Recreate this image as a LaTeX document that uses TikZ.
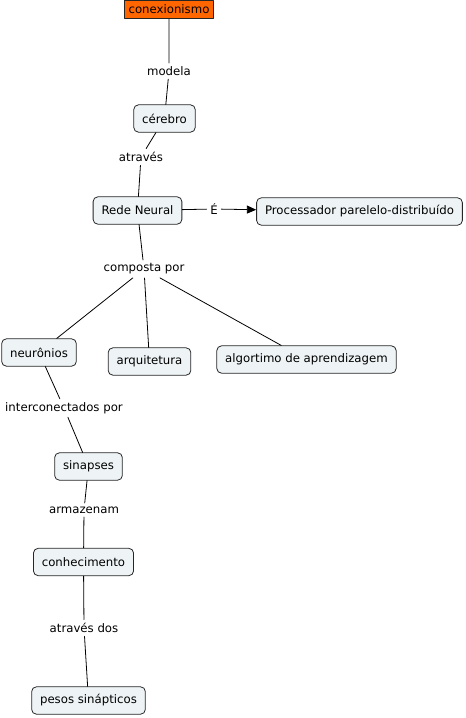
\documentclass[tikz,border=0pt]{standalone}
\usepackage{fontspec}
\setmainfont{DejaVu Sans}
\usetikzlibrary{arrows.meta}
\definecolor{conceptfill}{HTML}{EEF3F5}
\definecolor{rootfill}{HTML}{FF6600}
\begin{document}
\begin{tikzpicture}[
		x=0.75pt, y=-0.75pt, font=\fontsize{8.8}{10}\selectfont,
		line join=round, line cap=round, >={Triangle[length=7pt,width=6pt]},
		concept/.style={draw=black!85, fill=conceptfill, rounded corners=3.5pt,
			minimum height=20.5pt, inner xsep=6.3pt, line width=0.6pt},
		rootbox/.style={draw=black!85, fill=rootfill, minimum height=13.5pt, inner xsep=3pt, line width=0.6pt},
		linkword/.style={inner sep=2.5pt},
		link/.style={line width=0.6pt}
		]
		\useasboundingbox (0,0) rectangle (465,718);
		% conceitos
		\node[rootbox] (conex) at (169, 9.5) {conexionismo};
		\node[concept] (cerebro) at (164.5, 118.5) {cérebro};
		\node[concept] (rede) at (137.5, 210.5) {Rede Neural};
		\node[concept] (proc) at (359.5, 211.5) {Processador parelelo-distribuído};
		\node[concept] (neur) at (39, 352.5) {neurônios};
		\node[concept] (arq) at (149.5, 361.5) {arquitetura};
		\node[concept] (alg) at (306.5, 359.5) {algortimo de aprendizagem};
		\node[concept] (sinap) at (88.5, 466.5) {sinapses};
		\node[concept] (conhec) at (83.5, 562) {conhecimento};
		\node[concept] (pesos) at (88.5, 700.5) {pesos sinápticos};
		% palavras de ligação
		\node[linkword] (modela) at (169, 71) {modela};
		\node[linkword] (atraves) at (141, 157) {através};
		\node[linkword] (e) at (214, 209) {É};
		\node[linkword] (composta) at (144, 269) {composta por};
		\node[linkword] (intercon) at (64, 408) {interconectados por};
		\node[linkword] (armaz) at (84, 510) {armazenam};
		\node[linkword] (atravesdos) at (84, 628) {através dos};
		% ligações
		\draw[link] (conex) -- (modela) -- (cerebro);
		\draw[link] (cerebro) -- (atraves) -- (rede);
		\draw[link] (rede) -- (e);
		\draw[link, ->] (e) -- (proc);
		\draw[link] (rede) -- (composta);
		\draw[link] (composta) -- (neur);
		\draw[link] (composta) -- (arq);
		\draw[link] (composta) -- (alg);
		\draw[link] (neur) -- (intercon) -- (sinap);
		\draw[link] (sinap) -- (armaz) -- (conhec);
		\draw[link] (conhec) -- (atravesdos) -- (pesos);
\end{tikzpicture}
\end{document}
